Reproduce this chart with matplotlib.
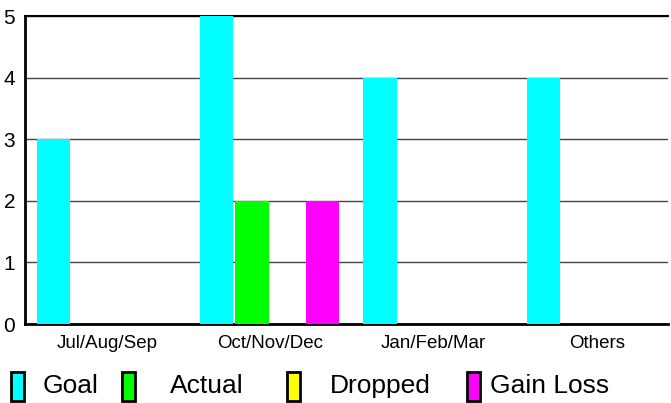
import matplotlib.pyplot as plt
from matplotlib.patches import Rectangle
import numpy as np

plt.rcParams['font.family'] = ['Liberation Sans', 'DejaVu Sans']

categories = ['Jul/Aug/Sep', 'Oct/Nov/Dec', 'Jan/Feb/Mar', 'Others']
series_names = ['Goal', 'Actual', 'Dropped', 'Gain Loss']
goal = [3, 5, 4, 4]
actual = [0, 2, 0, 0]
dropped = [0, 0, 0, 0]
gain_loss = [0, 2, 0, 0]
colors = ['#00ffff', '#00ff00', '#ffff00', '#ff00ff']

W, H = 671, 403
fig = plt.figure(figsize=(W / 100, H / 100), dpi=100)
ax = fig.add_axes([25 / W, (H - 324) / H, (668 - 25) / W, (324 - 16) / H])

x = np.arange(len(categories))
slot = 0.216
width = 0.203
for k, vals in enumerate([goal, actual, dropped, gain_loss]):
    ax.bar(x - 0.328 + k * slot, vals, width, color=colors[k], zorder=3, linewidth=0)

ax.set_xlim(-0.502, 3.435)
ax.set_ylim(0, 5)
ax.set_yticks(range(6))
ax.set_xticks(x)
ax.set_xticklabels(categories, fontsize=13.5)
ax.tick_params(axis='y', length=0, pad=7, labelsize=15)
ax.tick_params(axis='x', length=0, pad=8)
ax.yaxis.grid(True, color='#444444', linewidth=1, zorder=0)
ax.set_axisbelow(True)
ax.spines['right'].set_visible(False)
for s in ['left', 'bottom']:
    ax.spines[s].set_linewidth(2)
ax.spines['top'].set_linewidth(1.5)

# legend drawn by hand to keep the uneven spacing
patch_x = [11, 122, 287, 467]
text_x = [43, 170, 330, 490]
for px, tx, name, c in zip(patch_x, text_x, series_names, colors):
    fig.patches.append(Rectangle((px / W, (H - 401) / H), 13 / W, 29 / H,
                                 facecolor=c, edgecolor='black', linewidth=2,
                                 transform=fig.transFigure, figure=fig))
    fig.text(tx / W, (H - 386) / H, name, fontsize=19, va='center', ha='left')

fig.savefig('out.png', dpi=100)
